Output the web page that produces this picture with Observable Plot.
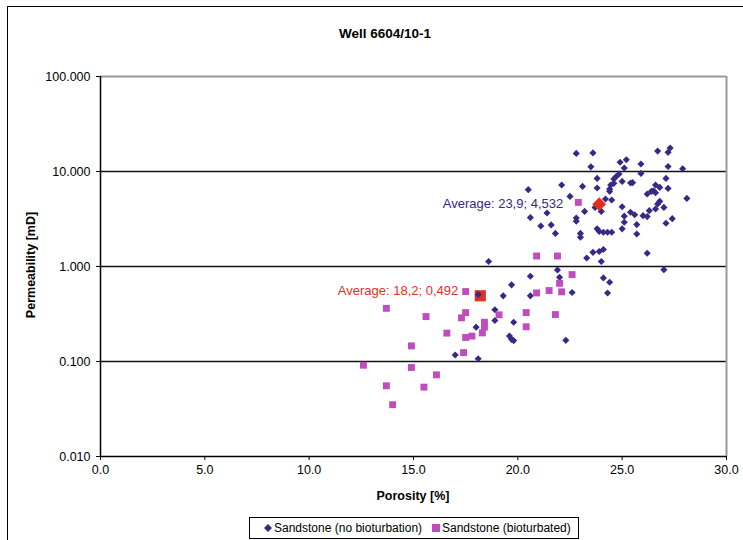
<!DOCTYPE html>
<html>
<head>
<meta charset="utf-8">
<script src="https://cdn.jsdelivr.net/npm/d3@7"></script>
<script src="https://cdn.jsdelivr.net/npm/@observablehq/plot@0.6"></script>
<style>
  html, body { margin: 0; padding: 0; background: #fff; overflow: hidden; }
  body { width: 743px; height: 540px; position: relative; font-family: "Liberation Sans", Arial, sans-serif; }
  #frame { position: absolute; left: 7px; top: 6px; width: 800px; height: 600px; border: 1px solid #000; box-sizing: border-box; }
  #chart { position: absolute; left: 0; top: 0; }
  .lbl { position: absolute; font-weight: bold; color: #000; white-space: nowrap; }
  #title { left: 385px; top: 33px; transform: translate(-50%, -50%); font-size: 13.5px; }
  #xlabel { left: 413px; top: 496px; transform: translate(-50%, -50%); font-size: 12.5px; }
  #ylabel { left: 31px; top: 265px; transform: translate(-50%, -50%) rotate(-90deg); font-size: 12.5px; }
  #legend { position: absolute; left: 249px; top: 517px; width: 330px; height: 22px; border: 1px solid #000; box-sizing: border-box; background: #fff; font-size: 12px; }
  #legend .item { position: absolute; top: 3px; display: flex; align-items: center; white-space: nowrap; }
  #legend svg { margin-right: 1px; }
</style>
</head>
<body>
<div id="frame"></div>
<div id="chart"></div>
<div class="lbl" id="title">Well 6604/10-1</div>
<div class="lbl" id="xlabel">Porosity [%]</div>
<div class="lbl" id="ylabel">Permeability [mD]</div>
<div id="legend"></div>
<script>
// ---- Data ----
const seriesNames = ["Sandstone (no bioturbation)", "Sandstone (bioturbated)"];

const noBioPorosity = [
  22.8, 23.6, 23.5, 24.9, 25.2, 25.1, 25.9, 26.7, 27.2, 27.3,
  27.2, 27.9, 25.9, 23.8, 24.85, 24.7, 24.6, 27.1, 22.1, 23.1,
  23.8, 24.45, 24.6, 24.4, 24.4, 25.0, 25.4, 25.5, 26.6, 26.8,
  27.2, 26.2, 26.4, 26.5, 26.6, 28.1, 22.5, 24.5, 24.2, 23.7,
  24.0, 23.2, 25.0, 26.8, 26.7, 27.0, 26.6, 26.3, 25.4, 25.6,
  25.1, 22.8, 26.0, 26.2, 27.4, 22.8, 25.1, 25.7, 27.1, 25.0,
  25.7, 23.8, 23.9, 24.1, 24.3, 24.5, 23.0, 23.0, 26.2, 24.1,
  23.9, 23.6, 23.3, 24.0, 27.0, 24.1, 24.4, 24.3, 20.5, 20.6,
  21.4, 21.1, 21.6, 21.8, 18.6, 21.9, 22.0, 20.6, 19.7, 19.3,
  20.6, 18.1, 22.6, 18.9, 18.9, 19.8, 18.0, 19.6, 19.7, 19.8,
  22.3, 17.0, 18.1
];
const noBioPerm = [
  15.5, 15.7, 11.2, 12.5, 13.3, 10.9, 12.0, 16.4, 15.9, 17.7,
  11.3, 10.7, 9.55, 8.46, 9.41, 8.82, 8.34, 8.46, 7.21, 6.97,
  6.70, 7.21, 7.50, 6.55, 6.18, 7.87, 7.57, 7.63, 7.21, 6.80,
  6.64, 5.80, 6.18, 6.28, 5.98, 5.21, 5.47, 5.01, 5.14, 4.19,
  3.80, 3.80, 4.26, 4.85, 4.55, 4.19, 4.03, 3.87, 3.73, 3.51,
  3.39, 3.24, 3.43, 3.35, 3.19, 2.99, 2.92, 2.76, 2.85, 2.49,
  2.20, 2.49, 2.34, 2.29, 2.29, 2.29, 2.23, 2.03, 1.38, 1.51,
  1.44, 1.41, 1.23, 1.13, 0.927, 0.759, 0.682, 0.527, 6.44, 3.27,
  3.66, 2.67, 2.74, 2.23, 1.13, 0.921, 0.769, 0.789, 0.641, 0.491,
  0.491, 0.507, 0.532, 0.350, 0.270, 0.259, 0.230, 0.185, 0.171, 0.166,
  0.167, 0.117, 0.107
];

const bioPorosity = [
  17.5, 13.7, 15.6, 17.5, 17.3, 18.4, 18.4, 18.3, 19.1, 16.6,
  17.5, 17.8, 14.9, 17.4, 20.4, 20.4, 21.8, 20.9, 21.5, 22.0,
  22.1, 22.6, 12.6, 14.9, 16.1, 13.7, 15.5, 14.0, 20.9, 21.9,
  22.9
];
const bioPerm = [
  0.545, 0.363, 0.297, 0.327, 0.288, 0.259, 0.230, 0.200, 0.310, 0.199,
  0.179, 0.185, 0.146, 0.124, 0.327, 0.232, 0.312, 0.527, 0.558, 0.665,
  0.541, 0.822, 0.0914, 0.0865, 0.0724, 0.0555, 0.0537, 0.0351, 1.29, 1.29,
  4.73
];

const avgPorosity = [23.9, 18.2];
const avgPerm = [4.532, 0.492];
const avgLabels = ["Average: 23,9; 4,532", "Average: 18,2; 0,492"];

const yTicks = [0.01, 0.1, 1, 10, 100];
const yGrid = [0.1, 1, 10];
const xTicks = [0, 5, 10, 15, 20, 25, 30];

// ---- Build tables ----
const noBio = noBioPorosity.map((p, i) => ({por: p, perm: noBioPerm[i]}));
const bio = bioPorosity.map((p, i) => ({por: p, perm: bioPerm[i]}));
const avgDiamond = [{por: avgPorosity[0], perm: avgPerm[0], label: avgLabels[0]}];
const avgSquare = [{por: avgPorosity[1], perm: avgPerm[1], label: avgLabels[1]}];

const navy = "#352a87";
const magenta = "#c04dbd";
const red = "#e2301f";

const chart = Plot.plot({
  width: 743,
  height: 540,
  marginLeft: 100,
  marginRight: 17,
  marginTop: 76,
  marginBottom: 84,
  style: {fontFamily: "Liberation Sans, Arial, sans-serif", fontSize: "12.5px", color: "#000", background: "transparent", overflow: "visible"},
  x: {domain: [0, 30]},
  y: {type: "log", domain: [0.01, 100]},
  marks: [
    Plot.ruleY(yGrid, {stroke: "#111", strokeWidth: 1.4}),
    Plot.ruleY([100], {stroke: "#999", strokeWidth: 2}),
    Plot.ruleX([30], {stroke: "#999", strokeWidth: 2}),
    Plot.axisY({ticks: yTicks, tickFormat: d => d.toFixed(3), tickSize: 4, tickPadding: 6, label: null, stroke: "#000"}),
    Plot.axisX({ticks: xTicks, tickFormat: d => d.toFixed(1), tickSize: 4, tickPadding: 5, label: null, stroke: "#000"}),
    Plot.ruleX([0], {stroke: "#000", strokeWidth: 1.5}),
    Plot.ruleY([0.01], {stroke: "#000", strokeWidth: 1.5}),
    Plot.dot(avgSquare, {x: "por", y: "perm", symbol: "square", r: 6.3, fill: red}),
    Plot.dot(noBio, {x: "por", y: "perm", symbol: "diamond2", r: 3.2, fill: navy}),
    Plot.dot(bio, {x: "por", y: "perm", symbol: "square", r: 3.9, fill: magenta}),
    Plot.dot(avgDiamond, {x: "por", y: "perm", symbol: "diamond2", r: 6.2, fill: red}),
    Plot.text(avgDiamond, {x: "por", y: "perm", text: "label", textAnchor: "end", dx: -36, dy: 0, fill: navy, fontSize: 13}),
    Plot.text(avgSquare, {x: "por", y: "perm", text: "label", textAnchor: "end", dx: -22, dy: -5, fill: red, fontSize: 13})
  ]
});
document.getElementById("chart").appendChild(chart);

// ---- Legend ----
const legend = document.getElementById("legend");
const items = [
  {name: seriesNames[0], left: 13, svg: `<svg width="10" height="10"><path d="M5,1 L9,5 L5,9 L1,5 Z" fill="${navy}"/></svg>`},
  {name: seriesNames[1], left: 181, svg: `<svg width="10" height="10"><rect x="1" y="1" width="8" height="8" fill="${magenta}"/></svg>`}
];
items.forEach(it => {
  const d = document.createElement("div");
  d.className = "item";
  d.style.left = it.left + "px";
  d.innerHTML = it.svg + `<span>${it.name}</span>`;
  legend.appendChild(d);
});
</script>
</body>
</html>
